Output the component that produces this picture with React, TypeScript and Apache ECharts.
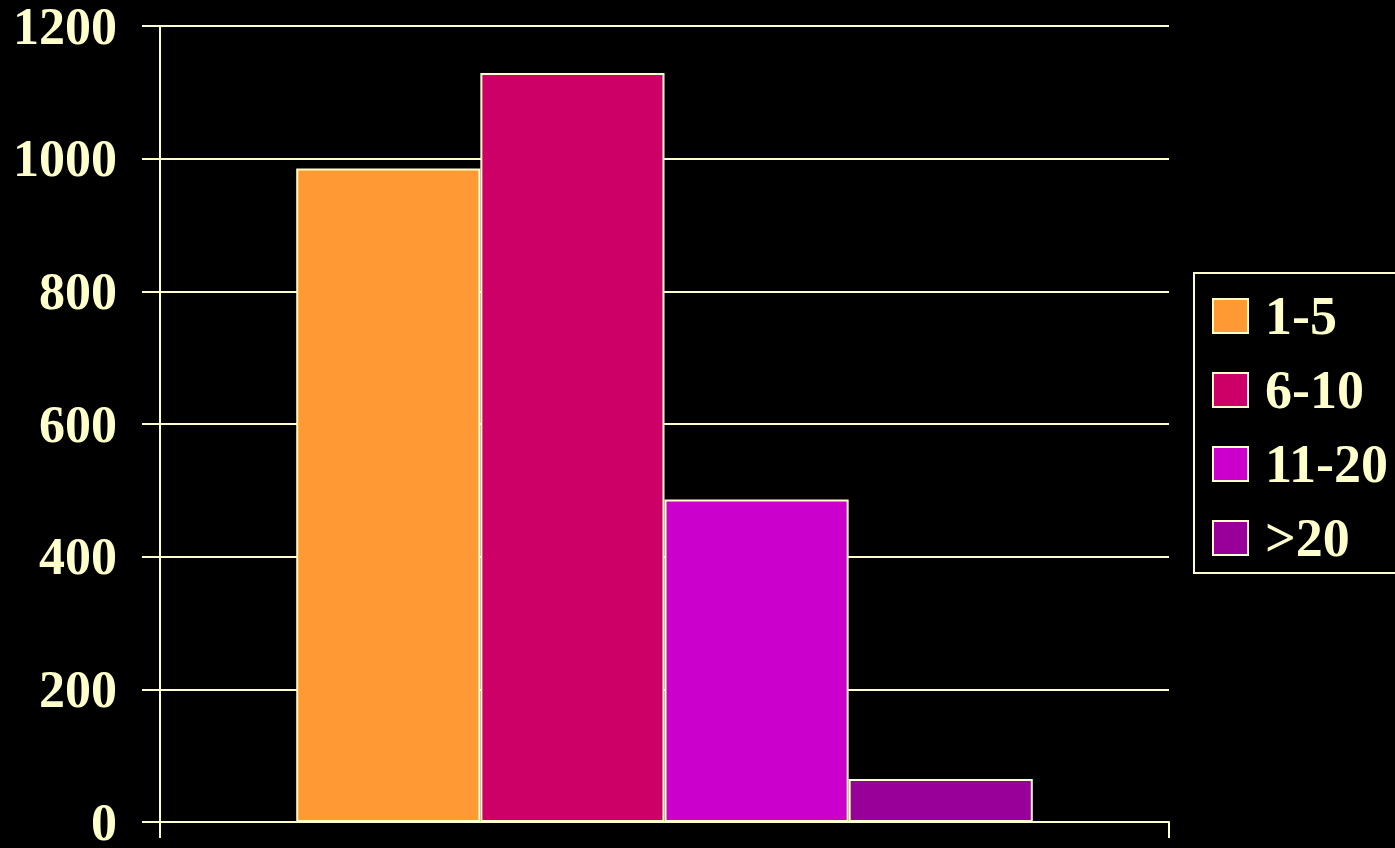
import React, { useEffect, useRef } from "react";
import * as echarts from "echarts";

const categories = [""];
const seriesNames = ["1-5", "6-10", "11-20", ">20"];
const seriesValues = [[985], [1129], [486], [65]];
const seriesColors = ["#FF9933", "#CC0066", "#CC00CC", "#990099"];
const yTicks = { min: 0, max: 1200, interval: 200 };

const FG = "#FFFFCC";
const FONT = "'Liberation Serif', 'Times New Roman', serif";

export default function App() {
  const ref = useRef<HTMLDivElement>(null);
  useEffect(() => {
    if (!ref.current) return;
    const chart = echarts.init(ref.current, undefined, { renderer: "svg" });
    chart.setOption({
      animation: false,
      backgroundColor: "#000000",
      grid: { left: 160, right: 226, top: 26, bottom: 21, containLabel: false },
      xAxis: {
        type: "category",
        data: categories,
        boundaryGap: true,
        axisLine: { show: true, lineStyle: { color: FG, width: 2 } },
        axisTick: { show: true, length: 16, lineStyle: { color: FG, width: 2 } },
        axisLabel: { show: false },
        splitLine: { show: false },
      },
      yAxis: {
        type: "value",
        min: yTicks.min,
        max: yTicks.max,
        interval: yTicks.interval,
        axisLine: { show: true, lineStyle: { color: FG, width: 2 } },
        axisTick: { show: true, length: 18, lineStyle: { color: FG, width: 2 } },
        axisLabel: {
          color: FG,
          fontSize: 52,
          fontWeight: "bold",
          fontFamily: FONT,
          margin: 43,
          formatter: (v: number) => String(v),
        },
        splitLine: { show: true, lineStyle: { color: FG, width: 2 } },
      },
      legend: {
        orient: "vertical",
        left: 1194,
        top: 273,
        padding: [16, 200, 8, 18],
        itemGap: 20,
        itemWidth: 35,
        itemHeight: 34,
        borderColor: FG,
        borderWidth: 2,
        icon: "rect",
        itemStyle: { borderColor: FG, borderWidth: 2 },
        textStyle: {
          color: FG,
          fontSize: 54,
          fontWeight: "bold",
          fontFamily: FONT,
          lineHeight: 50,
          padding: [0, 0, 0, 12],
        },
        data: seriesNames,
      },
      series: seriesNames.map((name, i) => ({
        name,
        type: "bar",
        data: seriesValues[i],
        barGap: "0%",
        barCategoryGap: "27%",
        itemStyle: { color: seriesColors[i], borderColor: FG, borderWidth: 2 },
      })),
    });
    return () => chart.dispose();
  }, []);
  return (
    <div
      ref={ref}
      style={{ position: "fixed", left: 0, top: 0, width: 1395, height: 848 }}
    />
  );
}
